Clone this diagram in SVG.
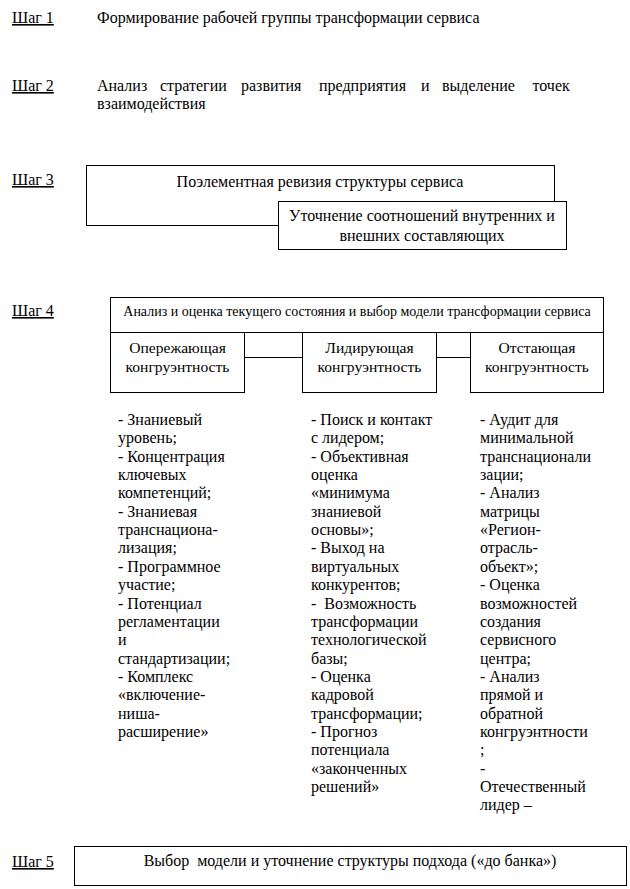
<svg xmlns="http://www.w3.org/2000/svg" width="630" height="889" viewBox="0 0 630 889">
<style>
text{font-family:"Liberation Serif","Times New Roman",serif;font-size:16px;fill:#000;white-space:pre}
.step{text-decoration:underline}
.c{text-anchor:middle}
.hdr{font-size:14px}
.bx{font-size:15.6px}
rect{fill:#fff;stroke:#000;stroke-width:1}
line{stroke:#000;stroke-width:1}
</style>
<rect x="0" y="0" width="630" height="889" style="stroke:none"/>
<g id="step1">
<text class="step" x="12" y="23">Шаг 1</text>
<text x="97" y="23">Формирование рабочей группы трансформации сервиса</text>
</g>
<g id="step2">
<text class="step" x="12" y="91">Шаг 2</text>
<text y="91"><tspan x="97">Анализ</tspan><tspan x="160">стратегии</tspan><tspan x="241">развития</tspan><tspan x="319">предприятия</tspan><tspan x="421">и</tspan><tspan x="442">выделение</tspan><tspan x="532.5">точек</tspan></text>
<text x="97" y="109">взаимодействия</text>
</g>
<g id="step3">
<text class="step" x="12" y="185">Шаг 3</text>
<g id="revision">
<rect x="86.5" y="165.5" width="468" height="60"/>
<text class="c" x="320" y="187">Поэлементная ревизия структуры сервиса</text>
</g>
<g id="ratio">
<rect x="278.5" y="201.5" width="288" height="48"/>
<text class="c" x="422" y="221">Уточнение соотношений внутренних и</text>
<text class="c" x="422" y="241">внешних составляющих</text>
</g>
</g>
<g id="step4">
<text class="step" x="12" y="316">Шаг 4</text>
</g>
<g id="connectors">
<line x1="244" y1="357.5" x2="302" y2="357.5"/>
<line x1="436" y1="357.5" x2="470" y2="357.5"/>
</g>
<g id="analysis">
<rect x="110.5" y="297.5" width="493" height="35"/>
<text class="c hdr" x="357" y="316">Анализ и оценка текущего состояния и выбор модели трансформации сервиса</text>
</g>
<g id="advancing">
<rect x="110.5" y="332.5" width="134" height="60"/>
<text class="c bx" x="177.5" y="353">Опережающая</text>
<text class="c bx" x="177.5" y="372">конгруэнтность</text>
</g>
<g id="leading">
<rect x="302.5" y="332.5" width="134" height="60"/>
<text class="c bx" x="369.5" y="353">Лидирующая</text>
<text class="c bx" x="369.5" y="372">конгруэнтность</text>
</g>
<g id="lagging">
<rect x="470.5" y="332.5" width="133" height="60"/>
<text class="c bx" x="537" y="353">Отстающая</text>
<text class="c bx" x="537" y="372">конгруэнтность</text>
</g>
<g id="list1">
<text x="118" y="425">- Знаниевый</text>
<text x="118" y="443.35">уровень;</text>
<text x="118" y="461.7">- Концентрация</text>
<text x="118" y="480.05">ключевых</text>
<text x="118" y="498.4">компетенций;</text>
<text x="118" y="516.75">- Знаниевая</text>
<text x="118" y="535.1">транснациона-</text>
<text x="118" y="553.45">лизация;</text>
<text x="118" y="571.8">- Программное</text>
<text x="118" y="590.15">участие;</text>
<text x="118" y="608.5">- Потенциал</text>
<text x="118" y="626.85">регламентации</text>
<text x="118" y="645.2">и</text>
<text x="118" y="663.55">стандартизации;</text>
<text x="118" y="681.9">- Комплекс</text>
<text x="118" y="700.25">«включение-</text>
<text x="118" y="718.6">ниша-</text>
<text x="118" y="736.95">расширение»</text>
</g>
<g id="list2">
<text x="311" y="425">- Поиск и контакт</text>
<text x="311" y="443.35">с лидером;</text>
<text x="311" y="461.7">- Объективная</text>
<text x="311" y="480.05">оценка</text>
<text x="311" y="498.4">«минимума</text>
<text x="311" y="516.75">знаниевой</text>
<text x="311" y="535.1">основы»;</text>
<text x="311" y="553.45">- Выход на</text>
<text x="311" y="571.8">виртуальных</text>
<text x="311" y="590.15">конкурентов;</text>
<text x="311" y="608.5">-  Возможность</text>
<text x="311" y="626.85">трансформации</text>
<text x="311" y="645.2">технологической</text>
<text x="311" y="663.55">базы;</text>
<text x="311" y="681.9">- Оценка</text>
<text x="311" y="700.25">кадровой</text>
<text x="311" y="718.6">трансформации;</text>
<text x="311" y="736.95">- Прогноз</text>
<text x="311" y="755.3">потенциала</text>
<text x="311" y="773.65">«законченных</text>
<text x="311" y="792">решений»</text>
</g>
<g id="list3">
<text x="480" y="425">- Аудит для</text>
<text x="480" y="443.35">минимальной</text>
<text x="480" y="461.7">транснационали</text>
<text x="480" y="480.05">зации;</text>
<text x="480" y="498.4">- Анализ</text>
<text x="480" y="516.75">матрицы</text>
<text x="480" y="535.1">«Регион-</text>
<text x="480" y="553.45">отрасль-</text>
<text x="480" y="571.8">объект»;</text>
<text x="480" y="590.15">- Оценка</text>
<text x="480" y="608.5">возможностей</text>
<text x="480" y="626.85">создания</text>
<text x="480" y="645.2">сервисного</text>
<text x="480" y="663.55">центра;</text>
<text x="480" y="681.9">- Анализ</text>
<text x="480" y="700.25">прямой и</text>
<text x="480" y="718.6">обратной</text>
<text x="480" y="736.95">конгруэнтности</text>
<text x="480" y="755.3">;</text>
<text x="480" y="773.65">-</text>
<text x="480" y="792">Отечественный</text>
<text x="480" y="810.35">лидер –</text>
</g>
<g id="step5">
<text class="step" x="12" y="867">Шаг 5</text>
<g id="choice">
<rect x="74.5" y="846.5" width="552" height="39"/>
<text class="c" x="350" y="866">Выбор  модели и уточнение структуры подхода («до банка»)</text>
</g>
</g>
</svg>
